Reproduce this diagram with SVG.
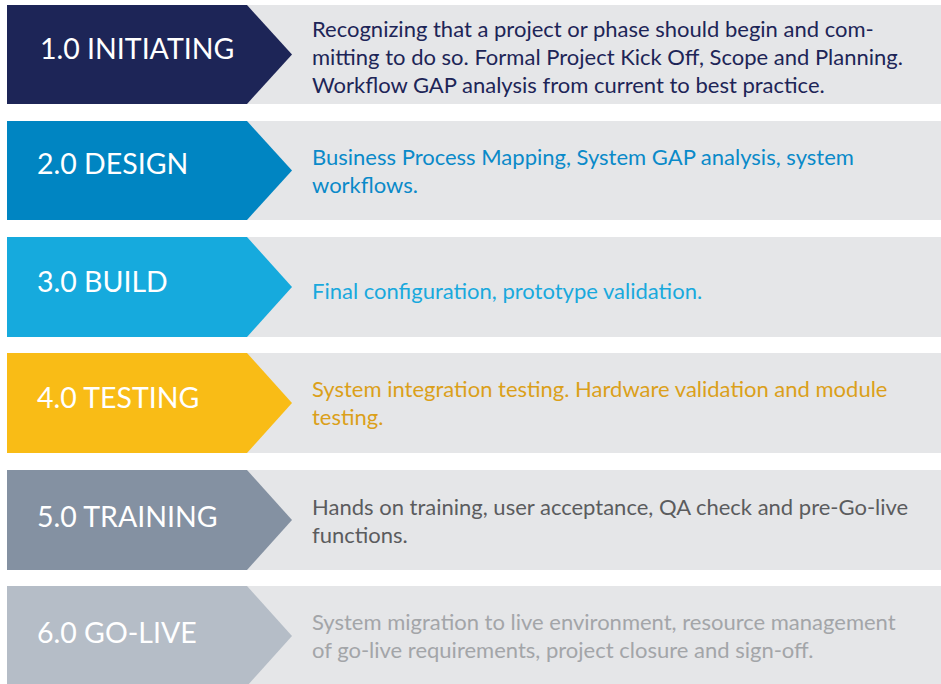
<svg xmlns="http://www.w3.org/2000/svg" width="941" height="684" viewBox="0 0 941 684">
<style>
.panel{fill:#e5e6e8}
.title{font-family:Lato,"Liberation Sans",sans-serif;font-size:28.5px;fill:#ffffff}
.body{font-family:Lato,"Liberation Sans",sans-serif;font-size:22px}
</style>
<rect width="941" height="684" fill="#ffffff"/>
<g id="step1">
<rect class="panel" x="247" y="5" width="694" height="99"/>
<path d="M7 5H247L292 54.5L247 104H7Z" fill="#1d2557"/>
<text class="title" x="40" y="59">1.0 INITIATING</text>
<text class="body" fill="#1d2557"><tspan x="312" y="36.5">Recognizing that a project or phase should begin and com-</tspan><tspan x="312" y="64.5">mitting to do so. Formal Project Kick Off, Scope and Planning.</tspan><tspan x="312" y="92.5">Workflow GAP analysis from current to best practice.</tspan></text>
</g>
<g id="step2">
<rect class="panel" x="247" y="121" width="694" height="99"/>
<path d="M7 121H247L292 170.5L247 220H7Z" fill="#0085c2"/>
<text class="title" x="37" y="174">2.0 DESIGN</text>
<text class="body" fill="#0a8ac9"><tspan x="312" y="164.5">Business Process Mapping, System GAP analysis, system</tspan><tspan x="312" y="193">workflows.</tspan></text>
</g>
<g id="step3">
<rect class="panel" x="247" y="237" width="694" height="100"/>
<path d="M7 237H247L292 287L247 337H7Z" fill="#16aadd"/>
<text class="title" x="37" y="292">3.0 BUILD</text>
<text class="body" fill="#19a9dd"><tspan x="312" y="299">Final configuration, prototype validation.</tspan></text>
</g>
<g id="step4">
<rect class="panel" x="247" y="353" width="694" height="100"/>
<path d="M7 353H247L292 403L247 453H7Z" fill="#f9bc16"/>
<text class="title" x="37" y="408">4.0 TESTING</text>
<text class="body" fill="#dba01a"><tspan x="312" y="397">System integration testing. Hardware validation and module</tspan><tspan x="312" y="425">testing.</tspan></text>
</g>
<g id="step5">
<rect class="panel" x="247" y="470" width="694" height="100"/>
<path d="M7 470H247L292 520L247 570H7Z" fill="#8491a2"/>
<text class="title" x="37" y="527">5.0 TRAINING</text>
<text class="body" fill="#5b5c5e"><tspan x="312" y="515">Hands on training, user acceptance, QA check and pre-Go-live</tspan><tspan x="312" y="543">functions.</tspan></text>
</g>
<g id="step6">
<rect class="panel" x="247" y="586" width="694" height="100"/>
<path d="M7 586H247L292 636L247 686H7Z" fill="#b5bdc7"/>
<text class="title" x="37" y="643">6.0 GO-LIVE</text>
<text class="body" fill="#a3a5a8"><tspan x="312" y="630">System migration to live environment, resource management</tspan><tspan x="312" y="658">of go-live requirements, project closure and sign-off.</tspan></text>
</g>
</svg>
